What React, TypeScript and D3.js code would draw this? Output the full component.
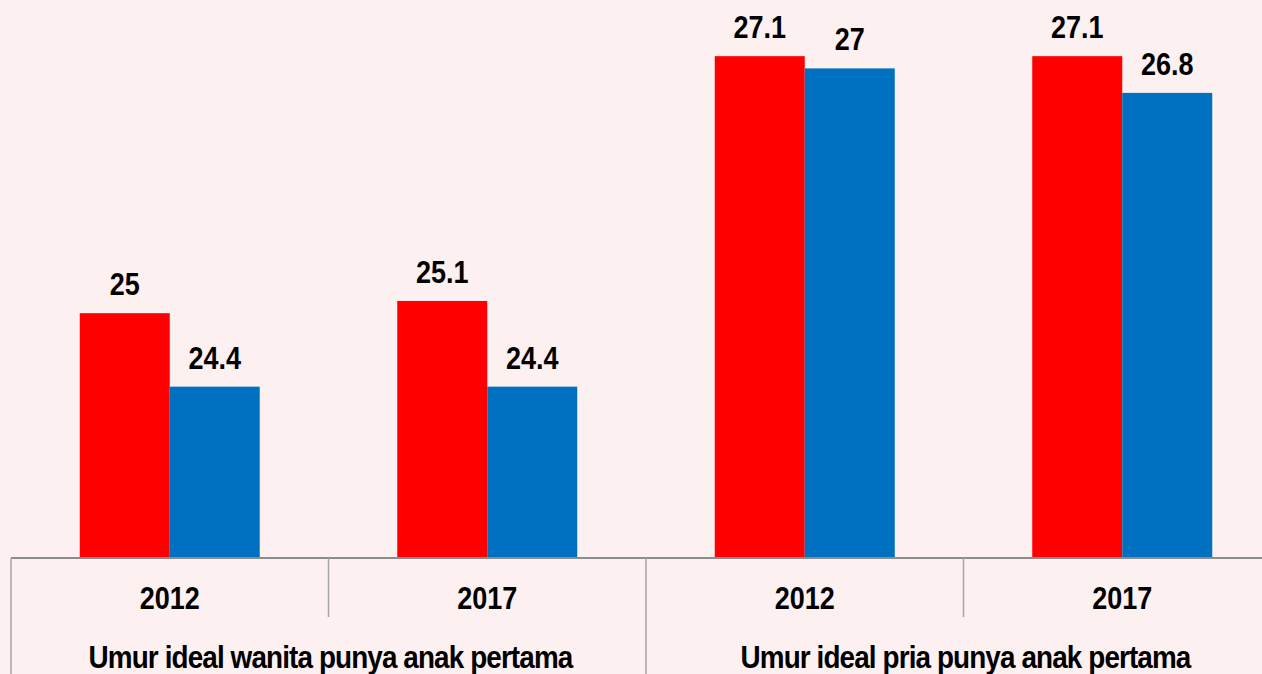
import React from "react";
import * as d3 from "d3";

const categories = ["Umur ideal wanita punya anak pertama", "Umur ideal pria punya anak pertama"];
const years = ["2012", "2017"];
const seriesKeys = ["red", "blue"];
const redValues = [25, 25.1, 27.1, 27.1];
const blueValues = [24.4, 24.4, 27, 26.8];

const W = 1262;
const H = 674;
const BG = "#fdf0f0";
const COLORS: Record<string, string> = { red: "#ff0000", blue: "#0070c0" };
const FONT = "'Liberation Sans', Arial, sans-serif";

export default function App() {
  const baseY = 558;
  const xCat = d3.scaleBand<string>().domain(categories).range([11, 1281]).padding(0);
  const xYear = d3.scaleBand<string>().domain(years).range([0, xCat.bandwidth()]).padding(0);
  const xSeries = d3.scaleBand<string>().domain(seriesKeys).range([-90, 90]).padding(0);
  const y = d3.scaleLinear().domain([23, 28]).range([baseY, baseY - 5 * 122.4]);

  const bars: { key: string; cx: number; x: number; v: number; color: string }[] = [];
  const yearCells: { x0: number; cx: number; label: string }[] = [];
  categories.forEach((c, ci) => {
    years.forEach((yr, yi) => {
      const idx = ci * years.length + yi;
      const x0 = (xCat(c) as number) + (xYear(yr) as number);
      const cx = x0 + xYear.bandwidth() / 2;
      yearCells.push({ x0, cx, label: yr });
      [redValues[idx], blueValues[idx]].forEach((v, si) => {
        const k = seriesKeys[si];
        const bx = cx + (xSeries(k) as number);
        bars.push({ key: `${idx}-${k}`, x: bx, cx: bx + xSeries.bandwidth() / 2, v, color: COLORS[k] });
      });
    });
  });

  const sx = 0.87;

  return (
    <svg
      width={W}
      height={H}
      style={{ position: "fixed", left: 0, top: 0, display: "block", background: BG }}
    >
      <rect x={0} y={0} width={W} height={H} fill={BG} />
      {bars.map((b) => (
        <rect key={b.key} x={b.x} y={y(b.v)} width={xSeries.bandwidth()} height={baseY - y(b.v)} fill={b.color} />
      ))}
      {bars.map((b) => (
        <text
          key={"t" + b.key}
          transform={`translate(${b.cx},${y(b.v) - 18}) scale(${sx},1)`}
          textAnchor="middle"
          fontFamily={FONT}
          fontWeight="bold"
          fontSize={31}
          fill="#000"
        >
          {String(b.v)}
        </text>
      ))}
      <line x1={11} x2={W} y1={baseY} y2={baseY} stroke="#8c8c8c" strokeWidth={2} />
      {yearCells.map((c, i) => (
        <line key={"yl" + i} x1={c.x0} x2={c.x0} y1={baseY} y2={i % 2 === 0 ? H : 617} stroke="#a6a6a6" strokeWidth={1.5} />
      ))}
      {yearCells.map((c, i) => (
        <text
          key={"yt" + i}
          transform={`translate(${c.cx},609) scale(${sx},1)`}
          textAnchor="middle"
          fontFamily={FONT}
          fontWeight="bold"
          fontSize={31}
          fill="#000"
        >
          {c.label}
        </text>
      ))}
      {categories.map((c) => (
        <text
          key={c}
          transform={`translate(${(xCat(c) as number) + xCat.bandwidth() / 2 + 2},668) scale(${sx},1)`}
          textAnchor="middle"
          fontFamily={FONT}
          fontWeight="bold"
          fontSize={32}
          letterSpacing={-1}
          fill="#000"
        >
          {c}
        </text>
      ))}
    </svg>
  );
}
